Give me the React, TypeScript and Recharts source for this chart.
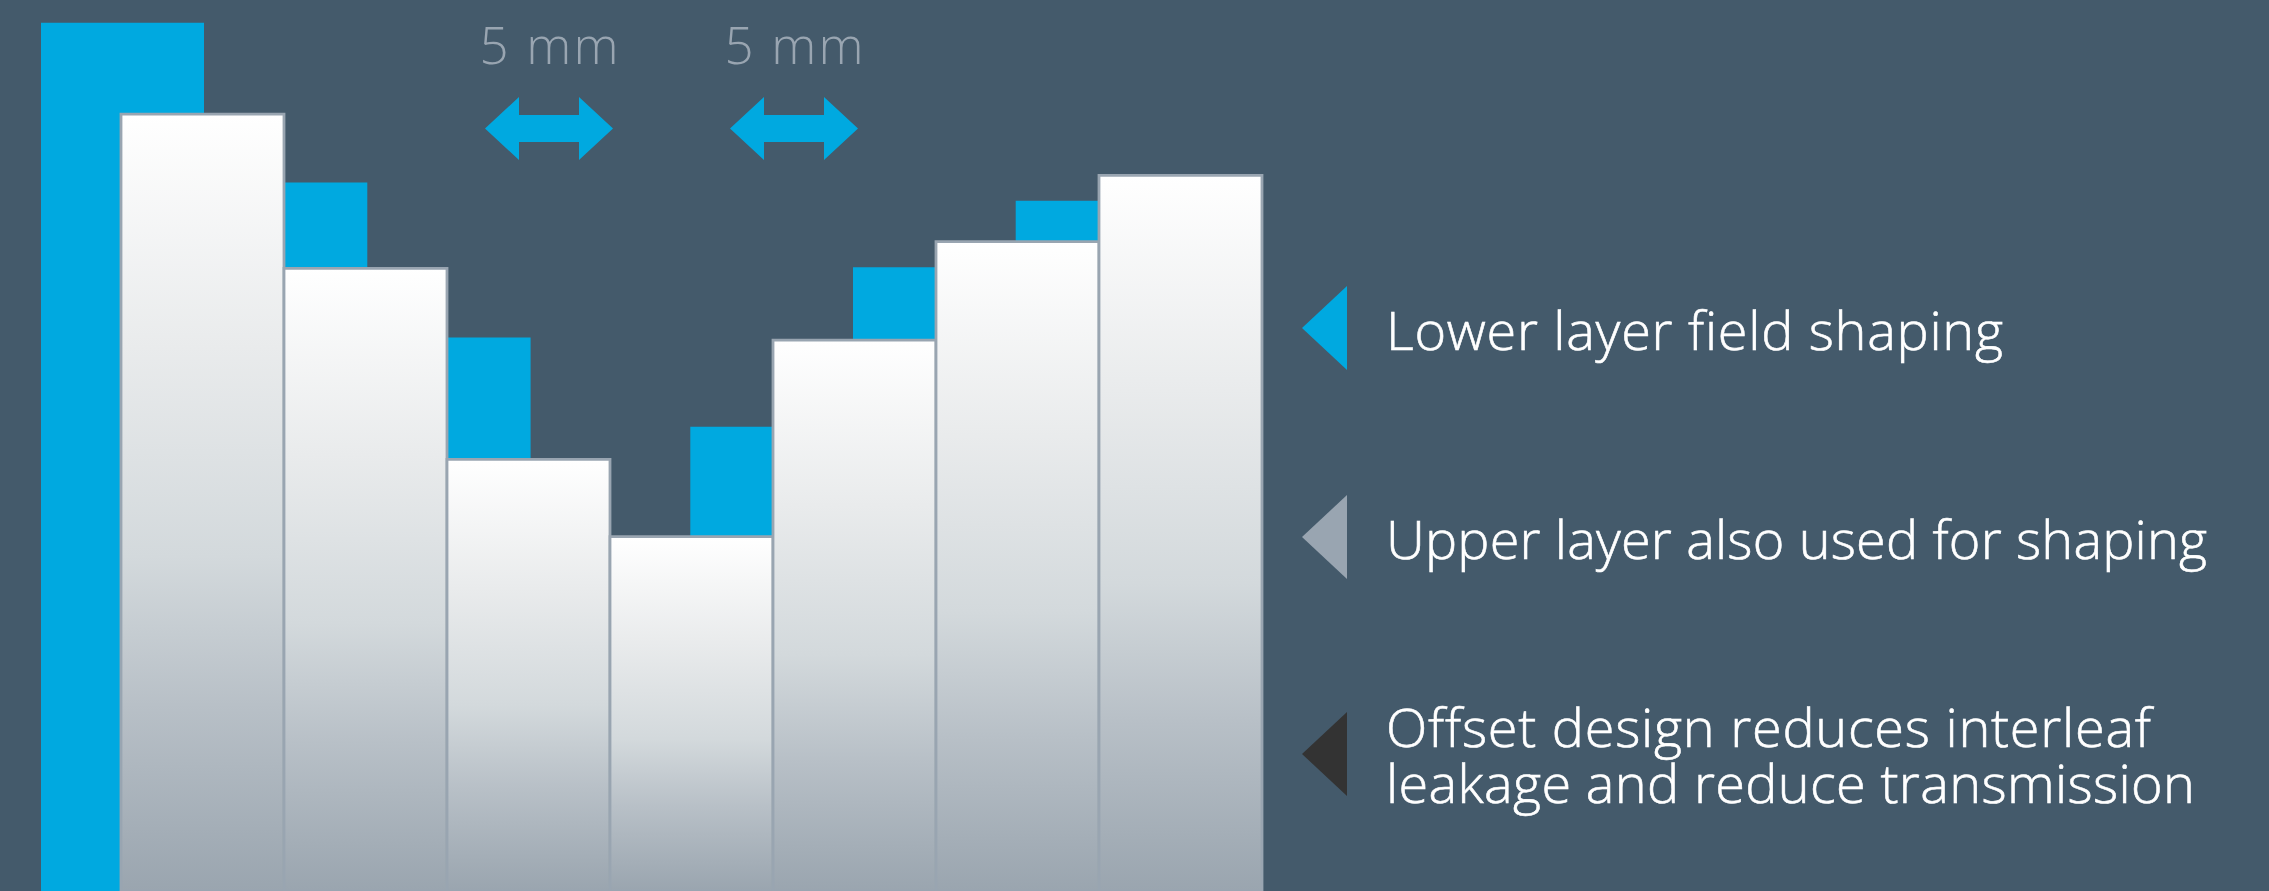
import React from "react";
import { BarChart, Bar, XAxis, YAxis } from "recharts";

// Heights in mm (one bar pitch = 5 mm)
const positions = ["P1", "P2", "P3", "P4", "P5", "P6", "P7"];
const lowerLeft = [26.63, 21.73, 16.98, null, null, null, null];
const lowerRight = [null, null, null, null, 14.24, 19.13, 21.17];
const upper = [23.83, 19.1, 13.24, 10.87, 16.9, 19.92, 21.95];

const rows = positions.map((p, i) => ({
  p,
  lowerLeft: lowerLeft[i],
  lowerRight: lowerRight[i],
  upper: upper[i],
}));

const W = 2269;
const H = 891;
const BG = "#445a6b";
const BLUE = "#00a9e0";
const GREY = "#99a5b1";
const DARK = "#333333";
const FONT = "'Open Sans', sans-serif";

const pitchLabels = [
  { text: "5 mm", cx: 549 },
  { text: "5 mm", cx: 794 },
];

const legendItems = [
  { color: BLUE, cy: 328, lines: [{ t: "Lower layer field shaping", y: 350, w: 617 }] },
  { color: GREY, cy: 537, lines: [{ t: "Upper layer also used for shaping", y: 559, w: 821 }] },
  {
    color: DARK,
    cy: 754,
    lines: [
      { t: "Offset design reduces interleaf", y: 747, w: 765 },
      { t: "leakage and reduce transmission", y: 803, w: 809 },
    ],
  },
];

const DoubleArrow = ({ cx }: { cx: number }) => {
  const l = cx - 64;
  const r = cx + 64;
  const pts = [
    [l, 128.5],
    [l + 34, 97],
    [l + 34, 115],
    [r - 34, 115],
    [r - 34, 97],
    [r, 128.5],
    [r - 34, 160],
    [r - 34, 142],
    [l + 34, 142],
    [l + 34, 160],
  ]
    .map((p) => p.join(","))
    .join(" ");
  return <polygon points={pts} fill={BLUE} />;
};

export default function App() {
  return (
    <div style={{ position: "absolute", left: 0, top: 0, width: W, height: H, background: BG, overflow: "hidden" }}>
      <BarChart
        width={W}
        height={H}
        data={rows}
        margin={{ top: 0, right: 0, bottom: 0, left: 0 }}
        barCategoryGap="0%"
        barGap={0}
      >
        <defs>
          <linearGradient id="upperFill" x1="0" y1="0" x2="0" y2="1">
            <stop offset="0" stopColor="#ffffff" />
            <stop offset="0.3" stopColor="#e9ebec" />
            <stop offset="0.57" stopColor="#d3d9dc" />
            <stop offset="0.76" stopColor="#b8c0c7" />
            <stop offset="1" stopColor="#9aa5af" />
          </linearGradient>
        </defs>
        <XAxis xAxisId="a" dataKey="p" hide padding={{ left: 41, right: W - 41 - 7 * 163.3 }} />
        <XAxis xAxisId="b" dataKey="p" hide padding={{ left: 39.5, right: W - 39.5 - 7 * 162.7 }} />
        <XAxis xAxisId="c" dataKey="p" hide padding={{ left: 121, right: W - 121 - 7 * 163 }} />
        <YAxis hide domain={[0, H / 32.6]} />
        <Bar xAxisId="a" dataKey="lowerLeft" fill={BLUE} isAnimationActive={false} />
        <Bar xAxisId="b" dataKey="lowerRight" fill={BLUE} isAnimationActive={false} />
        <Bar
          xAxisId="c"
          dataKey="upper"
          fill="url(#upperFill)"
          stroke={GREY}
          strokeWidth={2.8}
          isAnimationActive={false}
        />
        {pitchLabels.map((l, i) => (
          <g key={i}>
            <text x={l.cx} y={64} textAnchor="middle" fontFamily={FONT} fontWeight={300} fontSize={51} fill={GREY} textLength={139} lengthAdjust="spacing">
              {l.text}
            </text>
            <DoubleArrow cx={l.cx} />
          </g>
        ))}
        {legendItems.map((it, i) => (
          <g key={i}>
            <polygon
              points={`1302,${it.cy} 1347,${it.cy - 42} 1347,${it.cy + 42}`}
              fill={it.color}
            />
            {it.lines.map((ln, j) => (
              <text
                key={j}
                x={1386}
                y={ln.y}
                fontFamily={FONT}
                fontWeight={300}
                fontSize={54}
                fill="#ffffff"
                stroke="#ffffff"
                strokeWidth={0.6}
                textLength={ln.w}
                lengthAdjust="spacing"
                style={{ fontVariantLigatures: "none" }}
              >
                {ln.t}
              </text>
            ))}
          </g>
        ))}
      </BarChart>
    </div>
  );
}
